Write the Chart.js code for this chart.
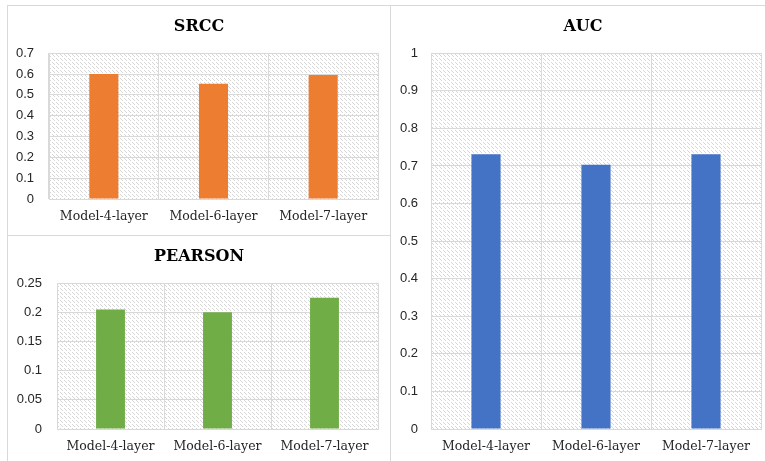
<!DOCTYPE html>
<html>
<head>
<meta charset="utf-8">
<script src="https://cdn.jsdelivr.net/npm/chart.js@4/dist/chart.umd.min.js"></script>
<style>
  html, body { margin: 0; padding: 0; background: #fff; }
  #wrap { position: relative; width: 765px; height: 461px; overflow: hidden; }
  canvas { position: absolute; }
  .rule { position: absolute; background: #d9d9d9; }
</style>
</head>
<body>
<div id="wrap">
  <div class="rule" style="left:7px; top:5px; width:758px; height:1px;"></div>
  <div class="rule" style="left:7px; top:5px; width:1px; height:456px;"></div>
  <div class="rule" style="left:7px; top:235px; width:383px; height:1px;"></div>
  <div class="rule" style="left:390px; top:5px; width:1px; height:456px;"></div>
  <canvas id="srcc" width="381" height="228" style="left:8px; top:6px;"></canvas>
  <canvas id="pearson" width="381" height="225" style="left:8px; top:236px;"></canvas>
  <canvas id="auc" width="374" height="455" style="left:391px; top:6px;"></canvas>
</div>
<script>
// Model variants compared in every panel
const categories = ['Model-4-layer', 'Model-6-layer', 'Model-7-layer'];

// Metric values per model
const srccValues = [0.600, 0.553, 0.595];
const pearsonValues = [0.205, 0.200, 0.225];
const aucValues = [0.731, 0.703, 0.731];

// Value axis ranges and tick steps
const srccTicks = { max: 0.7, step: 0.1 };
const pearsonTicks = { max: 0.25, step: 0.05 };
const aucTicks = { max: 1, step: 0.1 };

const GRID = '#d9d9d9';

// Light dashed downward-diagonal texture used behind the bars
function makeHatch() {
  const c = document.createElement('canvas');
  c.width = 8; c.height = 8;
  const g = c.getContext('2d');
  g.fillStyle = '#ffffff';
  g.fillRect(0, 0, 8, 8);
  g.fillStyle = '#d6d6d6';
  for (let y = 0; y < 8; y++) {
    for (let x = 0; x < 8; x++) {
      if ((x - y + 8) % 4 === 0 && y % 4 !== 3) g.fillRect(x, y, 1, 1);
    }
  }
  return g.createPattern(c, 'repeat');
}

const hatchPlugin = {
  id: 'hatchArea',
  beforeDraw(chart) {
    const a = chart.chartArea;
    const ctx = chart.ctx;
    ctx.save();
    ctx.fillStyle = makeHatch();
    ctx.fillRect(a.left, a.top, a.right - a.left, a.bottom - a.top);
    ctx.restore();
  }
};

// Let the value-axis labels use the whole space to the left of the plot
const labelRoomPlugin = {
  id: 'labelRoom',
  afterLayout(chart) {
    chart.scales.y.left = 0;
  }
};

function fmt(v) { return String(+Number(v).toFixed(2)); }

function build(id, title, values, color, ticks, opt) {
  new Chart(document.getElementById(id), {
    type: 'bar',
    data: {
      labels: categories,
      datasets: [{
        data: values,
        backgroundColor: color,
        borderWidth: 0,
        categoryPercentage: 1,
        barPercentage: opt.barPct
      }]
    },
    plugins: [hatchPlugin, labelRoomPlugin],
    options: {
      responsive: false,
      animation: false,
      devicePixelRatio: 1,
      layout: { padding: { left: opt.padL, right: opt.padR, top: 0, bottom: 0 } },
      plugins: {
        legend: { display: false },
        tooltip: { enabled: false },
        title: {
          display: true,
          text: title,
          color: '#000',
          font: { family: 'DejaVu Serif', size: 16, weight: 'bold', lineHeight: 1.2 },
          padding: { top: 11, bottom: 17 }
        }
      },
      scales: {
        x: {
          grid: { color: GRID, lineWidth: 1, drawTicks: false, offset: true },
          border: { color: GRID },
          ticks: {
            color: '#262626',
            padding: 10,
            maxRotation: 0,
            font: { family: 'DejaVu Serif', size: 12.5 }
          },
          afterFit: s => { s.height = opt.xH; }
        },
        y: {
          min: 0,
          max: ticks.max,
          grid: { color: GRID, lineWidth: 1, drawTicks: false },
          border: { color: GRID },
          ticks: {
            stepSize: ticks.step,
            color: '#262626',
            padding: opt.tickPad,
            font: { family: 'Liberation Sans', size: 13 },
            callback: v => fmt(v)
          },
          afterFit: s => { s.width = opt.yW; }
        }
      }
    }
  });
}

build('srcc', 'SRCC', srccValues, '#ED7D31', srccTicks,
  { padL: 12, padR: 11, yW: 29, xH: 35, tickPad: 15, barPct: 0.265 });
build('pearson', 'PEARSON', pearsonValues, '#70AD47', pearsonTicks,
  { padL: 12, padR: 11, yW: 37, xH: 32, tickPad: 15, barPct: 0.27 });
build('auc', 'AUC', aucValues, '#4472C4', aucTicks,
  { padL: 14, padR: 4, yW: 26, xH: 32, tickPad: 13, barPct: 0.265 });
</script>
</body>
</html>
